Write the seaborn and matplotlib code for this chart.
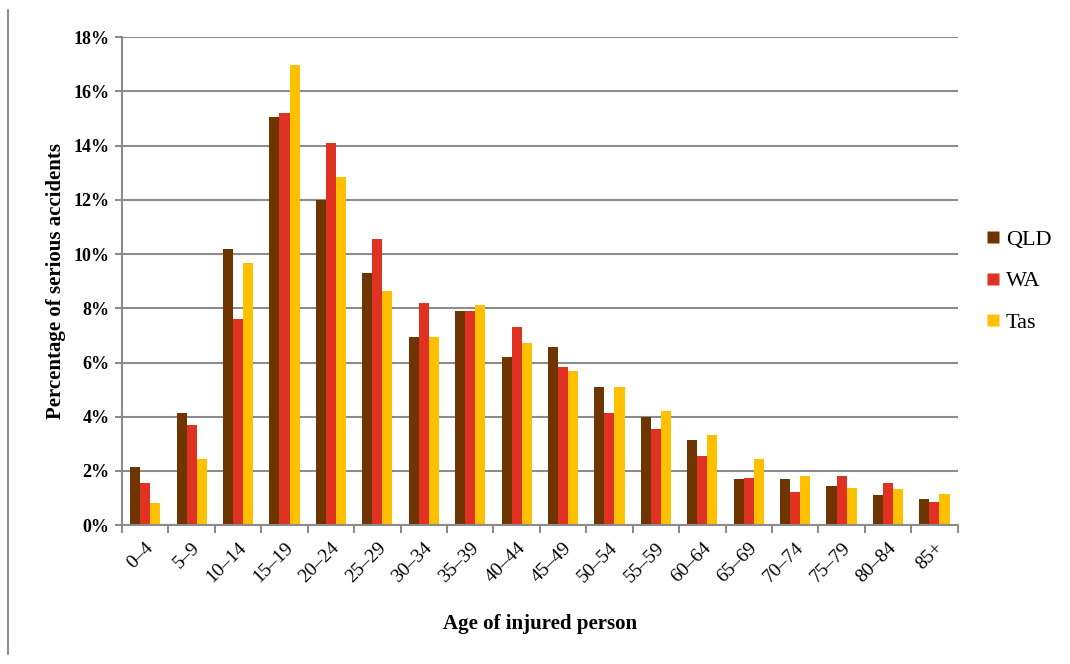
import matplotlib
matplotlib.use("Agg")
import matplotlib.pyplot as plt
import seaborn as sns
import pandas as pd
import numpy as np
from matplotlib.lines import Line2D
from matplotlib.ticker import FuncFormatter, FixedLocator

ages = ["0–4", "5–9", "10–14", "15–19", "20–24", "25–29", "30–34", "35–39", "40–44",
        "45–49", "50–54", "55–59", "60–64", "65–69", "70–74", "75–79", "80–84", "85+"]
qld = [2.14, 4.13, 10.18, 15.06, 12.0, 9.3, 6.94, 7.9, 6.2, 6.57, 5.09, 3.99, 3.16, 1.69, 1.69, 1.46, 1.10, 0.95]
wa  = [1.55, 3.69, 7.6, 15.2, 14.1, 10.55, 8.19, 7.9, 7.3, 5.83, 4.13, 3.54, 2.57, 1.76, 1.24, 1.83, 1.54, 0.87]
tas = [0.81, 2.44, 9.67, 16.97, 12.84, 8.63, 6.94, 8.12, 6.72, 5.68, 5.09, 4.2, 3.32, 2.43, 1.83, 1.39, 1.32, 1.17]
series = ["QLD", "WA", "Tas"]
colors = ["#6E3500", "#E03223", "#FFC000"]

df = pd.DataFrame({
    "age": ages * 3,
    "state": sum([[s] * len(ages) for s in series], []),
    "pct": qld + wa + tas,
})

sns.set_theme(style="white")
plt.rcParams["font.family"] = ["Liberation Serif", "DejaVu Serif"]
plt.rcParams["text.color"] = "black"
plt.rcParams["axes.labelcolor"] = "black"

fig = plt.figure(figsize=(10.7, 6.64), dpi=100)
ax = fig.add_axes([0.114, 0.209, 0.781, 0.735])

sns.barplot(data=df, x="age", y="pct", hue="state", hue_order=series,
            palette=colors, width=0.65, saturation=1, ax=ax, legend=True,
            edgecolor="none", linewidth=0)

ax.set_ylim(0, 18)
ax.set_xlim(-0.5, len(ages) - 0.5)
ax.yaxis.set_major_locator(FixedLocator(np.arange(0, 18.1, 2)))
ax.yaxis.set_major_formatter(FuncFormatter(lambda v, p: f"{int(round(v))}%"))
ax.grid(axis="y", color="#8c8c8c", linewidth=1.5)
ax.set_axisbelow(True)

for side in ["top", "right"]:
    ax.spines[side].set_visible(False)
for side in ["left", "bottom"]:
    ax.spines[side].set_color("#8c8c8c")
    ax.spines[side].set_linewidth(1.5)
ax.spines["bottom"].set_zorder(5)

ax.tick_params(axis="y", which="major", length=5, width=1.5, color="#8c8c8c",
               labelcolor="black", labelsize=13, pad=4, left=True)
for lbl in ax.get_yticklabels():
    lbl.set_fontweight("bold")

ax.set_xticks(range(len(ages)))
ax.set_xticklabels(ages, rotation=45, ha="right", rotation_mode="anchor", fontsize=14)
ax.tick_params(axis="x", which="major", length=0, pad=10, labelcolor="black")
ax.set_xticks(np.arange(-0.5, len(ages), 1.0), minor=True)
ax.tick_params(axis="x", which="minor", length=6, width=1.5, color="#8c8c8c", bottom=True)

ax.set_xlabel("Age of injured person", fontsize=15, fontweight="bold", labelpad=20)
ax.set_ylabel("Percentage of serious accidents", fontsize=15, fontweight="bold", labelpad=5)

handles = [Line2D([0], [0], marker="s", linestyle="none", markersize=8,
                  markerfacecolor=c, markeredgecolor="none") for c in colors]
ax.legend(handles, series, loc="center left", bbox_to_anchor=(1.01, 0.5),
          frameon=False, fontsize=16, handlelength=0.6, handletextpad=0.3,
          labelspacing=0.95, labelcolor="black")

fig.add_artist(Line2D([0.0075, 0.0075], [0.015, 0.985], transform=fig.transFigure,
                      color="#8c8c8c", linewidth=1.5))

fig.savefig("out.png", dpi=100, facecolor="white")
